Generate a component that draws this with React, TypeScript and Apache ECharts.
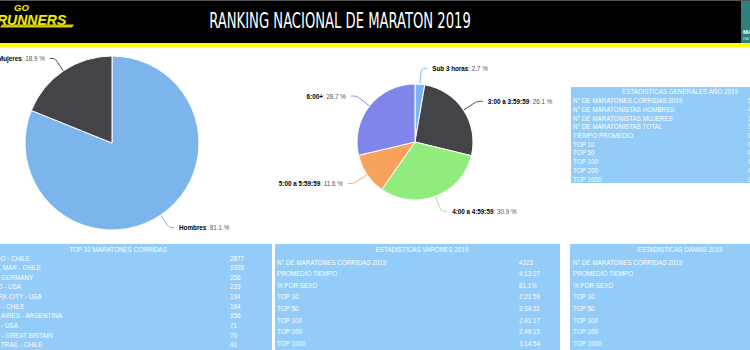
import React, { useEffect, useRef } from "react";
import * as echarts from "echarts";

// ---------- data ----------
const TITLE = "RANKING NACIONAL DE MARATON 2019";

const sexNames = ["Hombres", "Mujeres"];
const sexShares = [81.1, 18.9];
const sexColors = ["#7cb5ec", "#434348"];

const timeNames = ["Sub 3 horas", "3:00 a 3:59:59", "4:00 a 4:59:59", "5:00 a 5:59:59", "6:00+"];
const timeShares = [2.7, 26.1, 30.9, 11.6, 28.7];
const timeColors = ["#7cb5ec", "#434348", "#90ed7d", "#f7a35c", "#8085e9"];

const generalTitle = "ESTADISTICAS GENERALES AÑO 2019";
const generalLabels = [
  "N° DE MARATONES CORRIDAS 2019",
  "N° DE MARATONISTAS HOMBRES",
  "N° DE MARATONISTAS MUJERES",
  "N° DE MARATONISTAS TOTAL",
  "TIEMPO PROMEDIO",
  "TOP 10",
  "TOP 50",
  "TOP 100",
  "TOP 200",
  "TOP 1000",
];
const generalValues = ["5330", "4323", "1007", "5330", "04:18:32", "02:24:10", "02:38:05", "02:45:40", "02:55:12", "03:25:47"];

const top10Title = "TOP 10 MARATONES CORRIDAS";
const top10Names = [
  "SANTIAGO - CHILE",
  "VIÑA DEL MAR - CHILE",
  "BERLIN - GERMANY",
  "CHICAGO - USA",
  "NEW YORK CITY - USA",
  "TEMUCO - CHILE",
  "BUENOS AIRES - ARGENTINA",
  "BOSTON - USA",
  "LONDON - GREAT BRITAIN",
  "TORRES TRAIL - CHILE",
];
const top10Counts = ["2877", "1026", "256", "233", "194", "164", "156", "71", "70", "41"];

const statLabels = ["N° DE MARATONES CORRIDAS 2019", "PROMEDIO TIEMPO", "% POR SEXO", "TOP 10", "TOP 50", "TOP 100", "TOP 200", "TOP 1000"];
const varonesTitle = "ESTADISTICAS VARONES 2019";
const varonesValues = ["4323", "4:13:27", "81,1%", "2:21:59", "2:34:31", "2:41:17", "2:49:15", "3:14:54"];
const damasTitle = "ESTADISTICAS DAMAS 2019";
const damasValues = ["1007", "4:42:05", "18,9%", "2:48:10", "3:05:22", "3:14:40", "3:26:03", "4:01:18"];

// ---------- styles ----------
const TABLE_BG = "#93cbf9";
const SANS = "'Liberation Sans', Arial, sans-serif";
const FS = 6.3;

type TableSpec = {
  x: number; y: number; w: number; h: number;
  headerX: number; headerY: number;
  labelX: number; valueX: number;
  rowY0: number; rowStep: number;
  title: string; labels: string[]; values: string[];
};

function makeTable(t: TableSpec): any[] {
  const els: any[] = [
    { type: "rect", shape: { x: t.x, y: t.y, width: t.w, height: t.h }, style: { fill: TABLE_BG } },
    {
      type: "text", x: t.headerX, y: t.headerY,
      style: { text: t.title, fill: "#ffffff", fontSize: FS, fontFamily: SANS, align: "center", verticalAlign: "middle" },
    },
  ];
  t.labels.forEach((lab, i) => {
    const yy = t.rowY0 + i * t.rowStep;
    els.push({
      type: "text", x: t.labelX, y: yy,
      style: { text: lab, fill: "#ffffff", fontSize: FS, fontFamily: SANS, align: "left", verticalAlign: "middle" },
    });
    els.push({
      type: "text", x: t.valueX, y: yy,
      style: { text: t.values[i], fill: "#ffffff", fontSize: FS, fontFamily: SANS, align: "left", verticalAlign: "middle" },
    });
  });
  return els;
}

const labelRich = {
  n: { fontWeight: "bold", color: "#000000", fontSize: 6.3, fontFamily: SANS },
  v: { color: "#555555", fontSize: 6.3, fontFamily: SANS },
};

export default function App() {
  const ref = useRef<HTMLDivElement>(null);
  useEffect(() => {
    if (!ref.current) return;
    const chart = echarts.init(ref.current, undefined, { renderer: "svg" });

    const graphics: any[] = [
      // header
      { type: "rect", shape: { x: 0, y: 0, width: 750, height: 43 }, style: { fill: "#000000" } },
      { type: "rect", shape: { x: 0, y: 0, width: 750, height: 1 }, style: { fill: "#555555" } },
      { type: "rect", shape: { x: 0, y: 43, width: 750, height: 4 }, style: { fill: "#ffff00" } },
      { type: "rect", shape: { x: 741, y: 1, width: 9, height: 42 }, style: { fill: "#2f7f7d" } },
      { type: "text", x: 743, y: 32, style: { text: "MA", fill: "#ffffff", fontSize: 6, fontWeight: "bold", fontFamily: SANS, verticalAlign: "middle" } },
      { type: "text", x: 743, y: 38.5, style: { text: "RA", fill: "#dddddd", fontSize: 4, fontFamily: SANS, verticalAlign: "middle" } },
      // logo
      { type: "polygon", shape: { points: [[2, 24.5], [74, 24.5], [72, 27.5], [0, 27.5]] }, style: { fill: "#d8d000" } },
      { type: "text", x: 14, y: 7, style: { text: "GO", fill: "#f2ea00", stroke: "#222", lineWidth: 0.6, fontSize: 9.5, fontWeight: "bold", fontStyle: "italic", fontFamily: SANS, verticalAlign: "middle" } },
      { type: "text", x: -3, y: 20, style: { text: "RUNNERS", fill: "#f2ea00", stroke: "#222", lineWidth: 0.6, fontSize: 14, fontWeight: "bold", fontStyle: "italic", fontFamily: SANS, verticalAlign: "middle" } },
      // title
      {
        type: "text", x: 340, y: 21, scaleX: 0.75, scaleY: 1.05,
        style: { text: TITLE, fill: "#ffffff", fontSize: 19.5, fontFamily: "'Liberation Sans Narrow', 'DejaVu Sans Condensed', sans-serif", align: "center", verticalAlign: "middle" },
      },
      ...makeTable({
        x: 571, y: 87, w: 220, h: 96, headerX: 680, headerY: 91.5, labelX: 573, valueX: 748,
        rowY0: 100.7, rowStep: 8.7, title: generalTitle, labels: generalLabels, values: generalValues,
      }),
      ...makeTable({
        x: -36, y: 244, w: 308, h: 120, headerX: 118, headerY: 249.5, labelX: -27, valueX: 230,
        rowY0: 258, rowStep: 9.63, title: top10Title, labels: top10Names, values: top10Counts,
      }),
      ...makeTable({
        x: 275, y: 244, w: 285, h: 120, headerX: 422, headerY: 249.5, labelX: 277, valueX: 519,
        rowY0: 262, rowStep: 11.6, title: varonesTitle, labels: statLabels, values: varonesValues,
      }),
      ...makeTable({
        x: 570, y: 244, w: 230, h: 120, headerX: 680, headerY: 249.5, labelX: 573, valueX: 815,
        rowY0: 262, rowStep: 11.6, title: damasTitle, labels: statLabels, values: damasValues,
      }),
    ];

    chart.setOption({
      animation: false,
      backgroundColor: "#ffffff",
      graphic: { elements: graphics },
      series: [
        {
          type: "pie",
          center: [112, 143],
          radius: 87,
          startAngle: 90,
          clockwise: true,
          avoidLabelOverlap: false,
          itemStyle: { borderColor: "#ffffff", borderWidth: 1 },
          label: {
            show: true,
            formatter: "{n|{b}}{v|: {c} %}",
            rich: labelRich,
          },
          labelLine: { show: true, length: 15, length2: 5, smooth: 0.3, lineStyle: { width: 1 } },
          emphasis: { disabled: true },
          data: sexNames.map((n, i) => ({ name: n, value: sexShares[i], itemStyle: { color: sexColors[i] } })),
        },
        {
          type: "pie",
          center: [415, 142],
          radius: 58,
          startAngle: 90,
          clockwise: true,
          avoidLabelOverlap: false,
          itemStyle: { borderColor: "#ffffff", borderWidth: 1 },
          label: {
            show: true,
            formatter: "{n|{b}}{v|: {c} %}",
            rich: labelRich,
          },
          labelLine: { show: true, length: 16, length2: 6, smooth: 0.3, lineStyle: { width: 1 } },
          emphasis: { disabled: true },
          data: timeNames.map((n, i) => ({ name: n, value: timeShares[i], itemStyle: { color: timeColors[i] } })),
        },
      ],
    });
    return () => chart.dispose();
  }, []);

  return (
    <div
      ref={ref}
      style={{ position: "fixed", left: 0, top: 0, width: 750, height: 350, background: "#ffffff" }}
    />
  );
}
